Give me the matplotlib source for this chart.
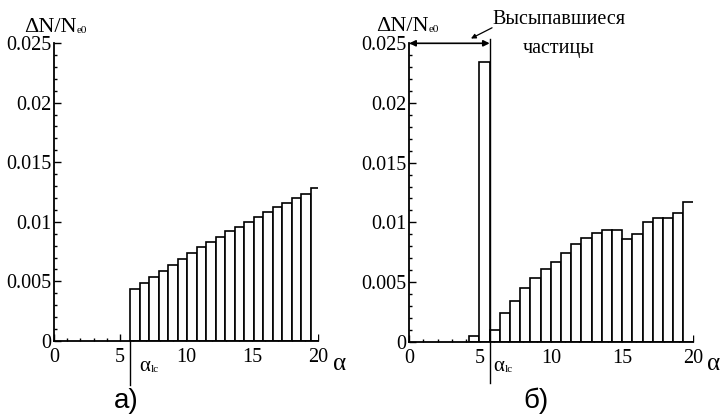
import numpy as np
import matplotlib.pyplot as plt
from matplotlib.ticker import MultipleLocator, FuncFormatter

# bin width of the pitch-angle histogram (degrees) and loss-cone angles
bin_width = 0.72
alpha_lc_a = 5.76
alpha_lc_b = 5.67

# panel a) - bins above the loss cone
counts_a = [0.0044, 0.0049, 0.0054, 0.0059, 0.0064, 0.0069, 0.0074, 0.0079,
            0.0083, 0.0087, 0.0092, 0.0096, 0.0100, 0.0104, 0.0108, 0.0112,
            0.0116, 0.0120, 0.0123, 0.0128]

# panel b) - two bins inside the loss cone, then bins above it
counts_b_inside = [0.0005, 0.0234]
counts_b = [0.0010, 0.0024, 0.0034, 0.0045, 0.0053, 0.0061, 0.0067, 0.0074,
            0.0082, 0.0087, 0.0091, 0.0094, 0.0094, 0.0086, 0.0090, 0.0100,
            0.0104, 0.0104, 0.0108, 0.0117]

plt.rcParams['font.family'] = ['Liberation Serif', 'DejaVu Serif']

W, H = 723, 419
fig = plt.figure(figsize=(W / 100, H / 100), dpi=100, facecolor='white')
ax_a = fig.add_axes([54 / W, 1 - 341 / H, 264 / W, 298 / H])
ax_b = fig.add_axes([409.3 / W, 1 - 341.7 / H, 283.4 / W, 298.4 / H])


def px(x, y):
    # pixel position (from top-left) -> figure fraction
    return x / W, 1 - y / H


def style_axes(ax):
    ax.set_xlim(0, 20)
    ax.set_ylim(0, 0.025)
    for s in ['top', 'right']:
        ax.spines[s].set_visible(False)
    for s in ['left', 'bottom']:
        ax.spines[s].set_linewidth(1.3)
    ax.xaxis.set_major_locator(MultipleLocator(5))
    ax.xaxis.set_minor_locator(MultipleLocator(1))
    ax.yaxis.set_major_locator(MultipleLocator(0.005))
    ax.yaxis.set_minor_locator(MultipleLocator(0.001))
    ax.yaxis.set_major_formatter(FuncFormatter(lambda v, p: f'{v:g}'))
    ax.tick_params(which='both', direction='in', labelsize=14.5, width=1.0)
    ax.tick_params(which='major', length=5)
    ax.tick_params(which='minor', length=2.5)
    ax.tick_params(axis='x', pad=5)
    ax.tick_params(axis='y', pad=2)


def draw_bars(ax, lefts, heights):
    ax.bar(lefts, heights, width=bin_width, align='edge', facecolor='white',
           edgecolor='black', linewidth=1.2, zorder=2)


def sub_text(x, y, main, sub, size, subsize):
    # main text with a small subscript right after it, baseline at pixel y
    t = fig.text(*px(x, y), main, ha='left', va='baseline', fontsize=size)
    bb = t.get_window_extent(renderer=fig.canvas.get_renderer())
    fig.text(bb.x1 / W + 0.5 / W, 1 - (y + 1) / H, sub, ha='left',
             va='baseline', fontsize=subsize)


# panel a)
lefts_a = alpha_lc_a + bin_width * np.arange(len(counts_a))
draw_bars(ax_a, lefts_a, counts_a)
style_axes(ax_a)
ax_a.plot([alpha_lc_a, alpha_lc_a], [-0.0037, 0], color='black', lw=1.0,
          clip_on=False)

# panel b)
lefts_b_in = alpha_lc_b - bin_width * np.arange(len(counts_b_inside), 0, -1)
lefts_b = alpha_lc_b + bin_width * np.arange(len(counts_b))
draw_bars(ax_b, lefts_b_in, counts_b_inside)
draw_bars(ax_b, lefts_b, counts_b)
style_axes(ax_b)
ax_b.plot([alpha_lc_b, alpha_lc_b], [-0.0035, 0.0254], color='black', lw=1.0,
          clip_on=False, zorder=3)
ax_b.annotate('', xy=(0, 0.025), xytext=(alpha_lc_b, 0.025),
              arrowprops=dict(arrowstyle='<|-|>', color='black', lw=1.2,
                              mutation_scale=9, shrinkA=0, shrinkB=0),
              annotation_clip=False)
ax_b.annotate('', xy=(4.35, 0.0254), xytext=(5.84, 0.0263),
              arrowprops=dict(arrowstyle='-|>', color='black', lw=0.9,
                              mutation_scale=7, shrinkA=0, shrinkB=0),
              annotation_clip=False)
fig.text(*px(559, 20), 'Высыпавшиеся', ha='center', va='center',
         fontsize=14.5)
fig.text(*px(559, 48), 'частицы', ha='center', va='center', fontsize=14.5)

# axis labels
sub_text(24, 32, 'ΔN/N', 'e0', 16, 8)
sub_text(376, 31, 'ΔN/N', 'e0', 16, 8)
fig.text(*px(333, 370), 'α', ha='left', va='baseline', fontsize=18)
fig.text(*px(707, 370), 'α', ha='left', va='baseline', fontsize=18)
sub_text(139, 371, 'α', 'lc', 15, 8)
sub_text(493, 371, 'α', 'lc', 15, 8)

# panel captions
fig.text(*px(126, 401), 'а)', ha='center', va='center', fontsize=20,
         family=['Liberation Sans', 'DejaVu Sans'])
fig.text(*px(536, 401), 'б)', ha='center', va='center', fontsize=20,
         family=['Liberation Sans', 'DejaVu Sans'])

fig.savefig('out.png', dpi=100, facecolor='white')
